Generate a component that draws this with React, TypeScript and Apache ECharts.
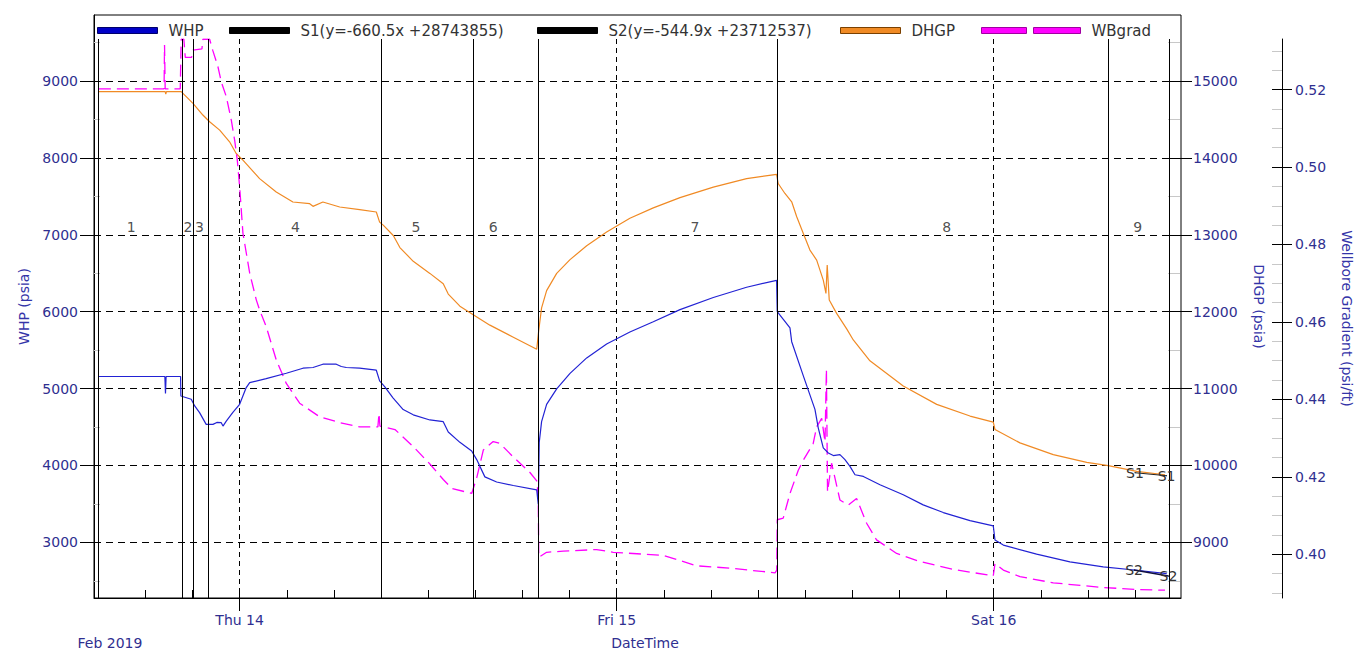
import React, { useEffect, useRef } from "react";
import * as echarts from "echarts";

const FONT = "'DejaVu Sans', Verdana, sans-serif";
const AXIS_BLUE = "#2f2f90";
const NAME_BLUE = "#3434a8";

// x values are hours relative to Thu 14 Feb 2019 00:00
const X_MIN = -9.27;
const X_MAX = 59.92;
const WHP_MIN = 2277;
const WHP_MAX = 9858;
const DHGP_MIN = 8277;
const DHGP_MAX = 15858;
const WB_MIN = 0.38869;
const WB_MAX = 0.53307;

const dayTicks = [0, 24, 48];
const dayLabels = ["Thu 14", "Fri 15", "Sat 16"];
const threeHourTicks = [-9, -6, -3, 0, 3, 6, 9, 12, 15, 18, 21, 24, 27, 30, 33, 36, 39, 42, 45, 48, 51, 54, 57];
const whpTicks = [3000, 4000, 5000, 6000, 7000, 8000, 9000];
const whpMinorTicks = [2500, 3500, 4500, 5500, 6500, 7500, 8500, 9500];
const dhgpTicks = [9000, 10000, 11000, 12000, 13000, 14000, 15000];
const dhgpMinorTicks = [8500, 9500, 10500, 11500, 12500, 13500, 14500, 15500];
const wbTicks = [0.4, 0.42, 0.44, 0.46, 0.48, 0.5, 0.52];
const wbMinorTicks = [0.39, 0.395, 0.405, 0.41, 0.415, 0.425, 0.43, 0.435, 0.445, 0.45, 0.455, 0.465, 0.47, 0.475, 0.485, 0.49, 0.495, 0.505, 0.51, 0.515, 0.525, 0.53];

const whpHours = [-8.96, -4.76, -4.72, -4.68, -3.76, -3.74, -3.08, -2.86, -2.55, -2.13, -1.7, -1.45, -1.17, -1.06, -0.85, -0.43, 0, 0.42, 0.64, 1.69, 2.97, 4.03, 4.67, 5.3, 6.15, 6.47, 6.79, 7.64, 8.7, 8.91, 9.23, 9.76, 10.41, 11.05, 12.11, 12.96, 13.28, 14.02, 14.77, 15.09, 15.61, 16.36, 17.42, 18.91, 19.01, 19.07, 19.22, 19.54, 20.18, 21.03, 22.09, 23.36, 24.84, 26.33, 28.03, 30.15, 32.27, 34.18, 34.22, 35.03, 35.14, 35.88, 36.62, 36.83, 37.15, 37.47, 37.79, 38.21, 38.53, 38.85, 39.17, 39.7, 40.76, 42.24, 43.51, 44.79, 46.49, 47.97, 48.08, 48.61, 50.73, 52.85, 54.97, 57.1, 59.01];
const whpValues = [5157, 5157, 4935, 5157, 5157, 4904, 4861, 4774, 4687, 4535, 4535, 4560, 4557, 4513, 4578, 4690, 4796, 5013, 5078, 5130, 5200, 5265, 5274, 5317, 5317, 5287, 5274, 5265, 5239, 5100, 5026, 4880, 4727, 4659, 4592, 4570, 4435, 4301, 4189, 4077, 3852, 3785, 3740, 3682, 3494, 4301, 4570, 4794, 4996, 5198, 5399, 5579, 5736, 5870, 6027, 6184, 6318, 6408, 6000, 5790, 5610, 5166, 4730, 4490, 4229, 4163, 4129, 4142, 4076, 3989, 3880, 3858, 3750, 3619, 3488, 3388, 3283, 3214, 3031, 2965, 2848, 2747, 2682, 2638, 2595];

const dhgpHours = [-8.96, -4.74, -4.7, -4.66, -3.72, -2.97, -2.34, -1.91, -1.27, -0.64, -0.22, 0.21, 1.27, 2.33, 3.39, 4.46, 4.67, 5.3, 6.37, 7.64, 8.7, 8.91, 9.14, 9.78, 10.2, 11.05, 12.11, 12.96, 13.28, 14.02, 14.87, 15.93, 17.42, 18.91, 19.04, 19.22, 19.54, 20.18, 21.03, 22.09, 23.36, 24.84, 26.33, 28.03, 30.15, 32.27, 34.18, 34.28, 34.71, 35.14, 35.46, 35.88, 36.3, 36.73, 37.15, 37.32, 37.4, 37.53, 38.0, 38.64, 39.06, 40.12, 42.24, 44.37, 46.49, 47.97, 48.08, 49.67, 51.79, 53.92, 55.29, 57.1, 58.9];
const dhgpValues = [14861, 14861, 14830, 14861, 14861, 14709, 14557, 14470, 14361, 14209, 14057, 13970, 13730, 13557, 13426, 13404, 13370, 13426, 13361, 13326, 13296, 13165, 13126, 12991, 12834, 12655, 12498, 12363, 12229, 12072, 11960, 11825, 11668, 11511, 11760, 12050, 12274, 12498, 12677, 12857, 13036, 13215, 13350, 13484, 13619, 13731, 13785, 13667, 13537, 13429, 13234, 13017, 12801, 12671, 12411, 12238, 12606, 12152, 11978, 11776, 11632, 11362, 11035, 10795, 10643, 10564, 10468, 10294, 10142, 10041, 9998, 9924, 9880];

const wbHours = [-8.96, -4.81, -4.78, -4.74, -3.78, -3.72, -3.55, -3.46, -3.06, -2.97, -2.4, -2.34, -1.91, -1.7, -1.38, -1.17, -0.85, -0.53, -0.32, -0.15, 0, 0.21, 0.64, 1.06, 1.27, 1.69, 2.33, 2.97, 3.82, 5.09, 6.37, 7.64, 8.7, 8.8, 8.87, 8.93, 9.89, 11.05, 12.11, 12.96, 13.5, 14.77, 15.09, 15.51, 16.14, 16.57, 17.42, 18.48, 18.94, 19.01, 19.04, 19.54, 20.6, 22.72, 23.78, 26.96, 29.09, 31.21, 34.08, 34.19, 34.22, 34.6, 35.03, 35.56, 35.88, 36.51, 36.73, 37.05, 37.26, 37.35, 37.42, 37.68, 38.21, 38.74, 39.27, 39.91, 40.54, 41.82, 43.3, 45.42, 47.97, 48.08, 48.61, 49.67, 51.79, 54.97, 57.1, 58.9];
const wbValues = [0.5202, 0.5202, 0.5315, 0.5202, 0.5202, 0.533, 0.533, 0.5283, 0.5283, 0.5302, 0.5305, 0.533, 0.533, 0.53, 0.5259, 0.522, 0.5182, 0.5121, 0.507, 0.5018, 0.4949, 0.4829, 0.4726, 0.4657, 0.4631, 0.4588, 0.4502, 0.4441, 0.439, 0.4355, 0.434, 0.4329, 0.4329, 0.4329, 0.4364, 0.4331, 0.4322, 0.4278, 0.4233, 0.4193, 0.417, 0.4157, 0.4197, 0.4269, 0.4291, 0.4286, 0.4251, 0.4211, 0.4188, 0.4126, 0.3992, 0.4005, 0.4008, 0.4012, 0.4005, 0.3997, 0.397, 0.3964, 0.3952, 0.3959, 0.4089, 0.4093, 0.4157, 0.4217, 0.4243, 0.4286, 0.4329, 0.4351, 0.429, 0.4478, 0.4161, 0.4235, 0.414, 0.4127, 0.4144, 0.408, 0.4037, 0.4002, 0.3981, 0.3961, 0.3944, 0.3976, 0.3959, 0.3942, 0.3926, 0.3914, 0.3909, 0.3907];

const s1Name = "S1(y=-660.5x +28743855)";
const s2Name = "S2(y=-544.9x +23712537)";
const s1Hours = [56.99, 59.0];
const s1Values = [9906, 9867];
const s2Hours = [56.93, 59.12];
const s2Values = [2640, 2562];

const segmentBounds = [-9.02, -3.67, -2.97, -1.97, 9.01, 14.87, 19.01, 34.22, 55.29, 59.19];
const segmentLabels = ["1", "2", "3", "4", "5", "6", "7", "8", "9"];
const segmentLabelHours = [-6.9, -3.29, -2.55, 3.56, 11.22, 16.14, 28.98, 45.0, 57.16];
const SEGMENT_LABEL_LEVEL = 7100;

const zip = (xs: number[], ys: number[]) => xs.map((x, i) => [x, ys[i]]);

const dayLabelFor = (v: number) => {
  const i = dayTicks.findIndex((d) => Math.abs(d - v) < 1e-6);
  return i >= 0 ? dayLabels[i] : "";
};
const plain = (v: number) => String(Math.round(v));

const legendText = { color: "#333", fontSize: 15, fontFamily: FONT, padding: [0, 0, 0, 6] };
const noZero = { onZero: false };

const buildOption = () => ({
  animation: false,
  backgroundColor: "#fff",
  textStyle: { fontFamily: FONT },
  grid: [
    { left: 94, right: 175, top: 15, bottom: 54, show: true, borderColor: "#000", borderWidth: 1, backgroundColor: "rgba(0,0,0,0)", containLabel: false, outerBoundsMode: "none" },
    { left: 94, right: 175, top: 39, bottom: 54, show: false, containLabel: false, outerBoundsMode: "none" },
  ],
  legend: [
    { name: "WHP", left: 97, color: "#0000c8", border: "#00006a", icon: "rect", w: 60 },
    { name: s1Name, left: 229, color: "#000", border: "#000", icon: "rect", w: 60 },
    { name: s2Name, left: 537, color: "#000", border: "#000", icon: "rect", w: 60 },
    { name: "DHGP", left: 840, color: "#f08a24", border: "#7a4000", icon: "rect", w: 60 },
    { name: "WBgrad", left: 981, color: "#ff00ff", border: "#a000a0", icon: "path://M0,0H45V6H0ZM52,0H99V6H52Z", w: 99 },
  ].map((l) => ({
    left: l.left,
    top: 23,
    padding: 0,
    itemWidth: l.w,
    itemHeight: 6,
    selectedMode: false,
    data: [{ name: l.name, icon: l.icon, itemStyle: { color: l.color, borderColor: l.border, borderWidth: 1 } }],
    textStyle: legendText,
  })),
  xAxis: [
    {
      gridIndex: 0,
      type: "value",
      min: X_MIN,
      max: X_MAX,
      position: "bottom",
      axisLine: { show: true, onZero: false, lineStyle: { color: "#000", width: 1 } },
      axisTick: { show: true, inside: true, length: 8, customValues: threeHourTicks, lineStyle: { color: "#000" } },
      axisLabel: { show: true, customValues: dayTicks, formatter: (v: number) => dayLabelFor(v), margin: 15, color: AXIS_BLUE, fontSize: 14, fontFamily: FONT },
      splitLine: { show: false },
    },
    {
      gridIndex: 1,
      type: "value",
      min: X_MIN,
      max: X_MAX,
      position: "bottom",
      axisLine: { show: false, onZero: false },
      axisTick: { show: true, inside: false, length: 13, customValues: dayTicks, lineStyle: { color: "#000" } },
      axisLabel: { show: false },
      splitLine: { show: true, lineStyle: { color: "#000", type: [5, 4], width: 1 } },
    },
  ],
  yAxis: [
    {
      gridIndex: 0,
      type: "value",
      position: "left",
      min: WHP_MIN,
      max: WHP_MAX,
      axisLine: { show: true, onZero: false, lineStyle: { color: "#000" } },
      axisTick: { show: true, length: 14, customValues: whpTicks, lineStyle: { color: "#000" } },
      axisLabel: { customValues: whpTicks, formatter: plain, margin: 16, color: AXIS_BLUE, fontSize: 14, fontFamily: FONT },
      splitLine: { show: true, lineStyle: { color: "#000", type: [7, 5], width: 1 } },
      name: "WHP (psia)",
      nameLocation: "middle",
      nameGap: 62,
      nameTextStyle: { color: NAME_BLUE, fontSize: 14, fontFamily: FONT },
    },
    {
      gridIndex: 0,
      type: "value",
      position: "left",
      min: WHP_MIN,
      max: WHP_MAX,
      axisLine: { show: false, ...noZero },
      axisTick: { show: true, inside: true, length: 6, customValues: whpMinorTicks, lineStyle: { color: "#c8c8c8" } },
      axisLabel: { show: false },
      splitLine: { show: false },
    },
    {
      gridIndex: 0,
      type: "value",
      position: "right",
      offset: -13,
      min: DHGP_MIN,
      max: DHGP_MAX,
      axisLine: { show: false, ...noZero },
      axisTick: { show: true, length: 24, customValues: dhgpTicks, lineStyle: { color: "#000" } },
      axisLabel: { customValues: dhgpTicks, formatter: plain, margin: 25, color: AXIS_BLUE, fontSize: 14, fontFamily: FONT },
      splitLine: { show: false },
      name: "DHGP (psia)",
      nameLocation: "middle",
      nameRotate: -90,
      nameGap: 84,
      nameTextStyle: { color: NAME_BLUE, fontSize: 14, fontFamily: FONT },
    },
    {
      gridIndex: 0,
      type: "value",
      position: "right",
      offset: -13,
      min: DHGP_MIN,
      max: DHGP_MAX,
      axisLine: { show: false, ...noZero },
      axisTick: { show: true, length: 12, customValues: dhgpMinorTicks, lineStyle: { color: "#c8c8c8" } },
      axisLabel: { show: false },
      splitLine: { show: false },
    },
    {
      gridIndex: 1,
      type: "value",
      position: "right",
      offset: 101,
      min: WB_MIN,
      max: WB_MAX,
      axisLine: { show: true, onZero: false, lineStyle: { color: "#000" } },
      axisTick: { show: true, length: 10, customValues: wbTicks, lineStyle: { color: "#000" } },
      axisLabel: { customValues: wbTicks, margin: 13, formatter: (v: number) => v.toFixed(2), color: AXIS_BLUE, fontSize: 14, fontFamily: FONT },
      splitLine: { show: false },
      name: "Wellbore Gradient (psi/ft)",
      nameLocation: "middle",
      nameRotate: -90,
      nameGap: 58,
      nameTextStyle: { color: NAME_BLUE, fontSize: 14, fontFamily: FONT },
    },
    {
      gridIndex: 1,
      type: "value",
      position: "right",
      offset: 101,
      min: WB_MIN,
      max: WB_MAX,
      axisLine: { show: false, ...noZero },
      axisTick: { show: true, inside: true, length: 10, customValues: wbTicks, lineStyle: { color: "#000" } },
      axisLabel: { show: false },
      splitLine: { show: false },
    },
    {
      gridIndex: 1,
      type: "value",
      position: "right",
      offset: 101,
      min: WB_MIN,
      max: WB_MAX,
      axisLine: { show: false, ...noZero },
      axisTick: { show: true, inside: true, length: 10, customValues: wbMinorTicks, lineStyle: { color: "#c8c8c8" } },
      axisLabel: { show: false },
      splitLine: { show: false },
    },
  ],
  series: [
    {
      name: "WHP",
      type: "line",
      xAxisIndex: 0,
      yAxisIndex: 0,
      data: zip(whpHours, whpValues),
      showSymbol: false,
      color: "#2222d4",
      lineStyle: { color: "#2222d4", width: 1.2 },
      z: 4,
    },
    {
      name: s1Name,
      type: "line",
      xAxisIndex: 0,
      yAxisIndex: 2,
      data: zip(s1Hours, s1Values),
      symbol: "circle",
      symbolSize: 1,
      showSymbol: true,
      color: "#000",
      lineStyle: { color: "#222", width: 1 },
      label: { show: true, position: "inside", formatter: "S1", color: "#333", fontSize: 14, fontFamily: FONT },
      z: 5,
    },
    {
      name: s2Name,
      type: "line",
      xAxisIndex: 0,
      yAxisIndex: 0,
      data: zip(s2Hours, s2Values),
      symbol: "circle",
      symbolSize: 1,
      showSymbol: true,
      color: "#000",
      lineStyle: { color: "#101040", width: 1.6 },
      label: { show: true, position: "inside", formatter: "S2", color: "#333", fontSize: 14, fontFamily: FONT },
      z: 5,
    },
    {
      name: "DHGP",
      type: "line",
      xAxisIndex: 0,
      yAxisIndex: 2,
      data: zip(dhgpHours, dhgpValues),
      showSymbol: false,
      color: "#f08a24",
      lineStyle: { color: "#f08a24", width: 1.2 },
      z: 3,
    },
    {
      name: "WBgrad",
      type: "line",
      xAxisIndex: 1,
      yAxisIndex: 4,
      data: zip(wbHours, wbValues),
      showSymbol: false,
      color: "#ff00ff",
      lineStyle: { color: "#ff00ff", width: 1.3, type: [12, 6] },
      z: 3,
      markLine: {
        silent: true,
        symbol: ["none", "none"],
        label: { show: false },
        lineStyle: { color: "#000", type: "solid", width: 1 },
        emphasis: { disabled: true },
        data: segmentBounds.map((v) => ({ xAxis: v })),
      },
    },
    {
      name: "segments",
      type: "scatter",
      xAxisIndex: 0,
      yAxisIndex: 0,
      symbolSize: 1,
      silent: true,
      itemStyle: { color: "rgba(0,0,0,0)" },
      data: segmentLabelHours.map((h, i) => ({ value: [h, SEGMENT_LABEL_LEVEL], label: { formatter: segmentLabels[i] } })),
      label: { show: true, position: "inside", color: "#222", fontSize: 14, fontFamily: FONT },
      z: 6,
    },
  ],
  graphic: [
    { type: "text", x: 110, y: 643, silent: true, style: { text: "Feb 2019", align: "center", verticalAlign: "middle", fill: AXIS_BLUE, fontSize: 14, fontFamily: FONT } },
    { type: "text", x: 645, y: 643, silent: true, style: { text: "DateTime", align: "center", verticalAlign: "middle", fill: AXIS_BLUE, fontSize: 14, fontFamily: FONT } },
  ],
});

export default function App() {
  const ref = useRef<HTMLDivElement>(null);
  useEffect(() => {
    if (!ref.current) return;
    const chart = echarts.init(ref.current, null, { renderer: "svg" });
    chart.setOption(buildOption() as any);
    return () => chart.dispose();
  }, []);
  return (
    <div
      ref={ref}
      style={{ position: "absolute", left: 0, top: 0, width: 1356, height: 652, background: "#fff" }}
    />
  );
}
